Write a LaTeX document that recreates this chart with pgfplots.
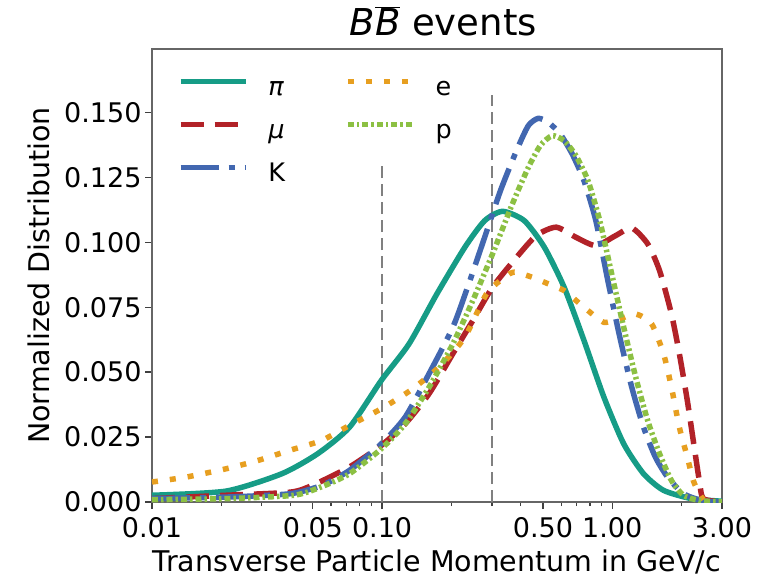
\documentclass[border=0pt]{standalone}
\usepackage{fontspec}
\setmainfont{DejaVu Sans}
\usepackage{pgfplots}
\pgfplotsset{compat=1.18}
\definecolor{cpi}{RGB}{22,156,134}
\definecolor{cmu}{RGB}{178,34,40}
\definecolor{cK}{RGB}{66,103,176}
\definecolor{ce}{RGB}{231,159,32}
\definecolor{cp}{RGB}{140,192,67}
\begin{document}
\begin{tikzpicture}
\begin{axis}[
 at={(0pt,0pt)}, anchor=south west,
 scale only axis, width=570pt, height=453pt,
 xmode=log, xmin=0.01, xmax=3, ymin=0, ymax=0.1744,
 xtick={0.01,0.05,0.1,0.5,1,3},
 xticklabels={0.01,0.05,0.10,0.50,1.00,3.00},
 minor xtick={0.02,0.03,0.04,0.06,0.07,0.08,0.09,0.2,0.3,0.4,0.6,0.7,0.8,0.9,2},
 ytick={0,0.025,0.05,0.075,0.1,0.125,0.15},
 yticklabels={0.000,0.025,0.050,0.075,0.100,0.125,0.150},
 tick pos=left, tick align=outside,
 major tick length=7pt, minor tick length=4pt,
 every tick/.append style={black!75, line width=1.3pt},
 axis line style={black!60, line width=1.3pt},
 tick label style={font=\fontsize{27}{32}\selectfont},
 xticklabel style={yshift=-5pt},
 /pgf/number format/assume math mode=true,
 xlabel={Transverse Particle Momentum in GeV/c},
 ylabel={Normalized Distribution},
 label style={font=\fontsize{28.5}{34}\selectfont},
 xlabel style={at={(axis description cs:0.5,-0.1325)}, anchor=center},
 ylabel style={at={(axis description cs:-0.198,0.5)}, anchor=center},
 title={\textit{B}$\overline{\mbox{\textit{B}}}$ events},
 title style={at={(axis description cs:0.511,1.0486)}, anchor=center, font=\fontsize{37}{44}\selectfont},
 legend columns=2,
 legend cell align=left,
 legend image code/.code={\draw[#1] (0pt,8pt) -- (65pt,8pt);},
 legend style={draw=none, fill=none, inner sep=0pt, outer sep=0pt,
   at={(axis description cs:0.0456,0.9366)}, anchor=north west,
   nodes={inner sep=0pt, text height=18pt, text depth=6pt, font=\fontsize{25.5}{30}\selectfont},
   row sep=19pt,
   /tikz/every odd column/.style={column sep=20pt},
   /tikz/every even column/.style={column sep=60pt}},
]
% vertical reference lines
\addplot[forget plot, black!50, line width=2pt, dash pattern=on 12pt off 6pt] coordinates {(0.1,0) (0.1,0.131)};
\addplot[forget plot, black!50, line width=2pt, dash pattern=on 12pt off 6pt] coordinates {(0.3,0) (0.3,0.1567)};
% pi
\addplot[forget plot, cpi, line width=5.5pt, smooth, tension=0.4] coordinates {
(0.01,0.0026) (0.021,0.0042) (0.0367,0.0109) (0.0525,0.0186) (0.0722,0.0288) (0.0992,0.0468) (0.131,0.0609) (0.173,0.0801) (0.229,0.0981) (0.279,0.1083) (0.334,0.1119) (0.415,0.1083) (0.507,0.0981) (0.618,0.0827) (0.754,0.0622) (0.920,0.0404) (1.122,0.0224) (1.368,0.0109) (1.671,0.0045) (2.21,0.0013) (3.0,0.0003)};
% mu
\addplot[forget plot, cmu, line width=5.5pt, dash pattern=on 23pt off 11pt, smooth, tension=0.4] coordinates {
(0.01,0.0013) (0.021,0.0026) (0.04,0.0038) (0.05,0.0065) (0.0722,0.0135) (0.0992,0.0218) (0.126,0.0301) (0.160,0.0417) (0.203,0.0571) (0.248,0.0699) (0.302,0.0827) (0.384,0.0942) (0.468,0.1026) (0.571,0.1058) (0.696,0.1019) (0.849,0.0987) (1.037,0.1026) (1.216,0.1055) (1.426,0.0994) (1.606,0.0891) (1.809,0.0724) (1.958,0.0571) (2.12,0.0391) (2.25,0.0237) (2.39,0.0083) (2.49,0.0013) (3.0,0.0)};
% K
\addplot[forget plot, cK, line width=5.5pt, dash pattern=on 38pt off 10pt on 6pt off 10pt, smooth, tension=0.4] coordinates {
(0.01,0.0013) (0.021,0.0019) (0.04,0.0032) (0.055,0.0065) (0.0722,0.0122) (0.0992,0.0224) (0.126,0.0327) (0.160,0.0494) (0.203,0.0673) (0.238,0.0840) (0.279,0.1019) (0.327,0.1199) (0.384,0.1353) (0.432,0.1449) (0.477,0.1477) (0.527,0.1462) (0.594,0.1417) (0.670,0.1340) (0.754,0.1237) (0.849,0.1083) (0.957,0.0853) (1.079,0.0635) (1.216,0.0442) (1.368,0.0288) (1.54,0.0173) (1.74,0.0096) (2.04,0.0032) (2.49,0.0004) (3.0,0.0)};
% e
\addplot[forget plot, ce, line width=5.5pt, dash pattern=on 6pt off 12pt, smooth, tension=0.4] coordinates {
(0.01,0.0077) (0.0141,0.0096) (0.021,0.0128) (0.0289,0.016) (0.0397,0.0199) (0.0546,0.0237) (0.0722,0.0295) (0.0992,0.0359) (0.136,0.0436) (0.180,0.0526) (0.229,0.0635) (0.284,0.0801) (0.340,0.0865) (0.376,0.0885) (0.450,0.0865) (0.527,0.0840) (0.618,0.0814) (0.696,0.0776) (0.785,0.0737) (0.920,0.0692) (1.079,0.0705) (1.265,0.0724) (1.483,0.0686) (1.671,0.0571) (1.809,0.0442) (1.958,0.0288) (2.12,0.0173) (2.25,0.0083) (2.39,0.0032) (2.49,0.0009)};
% p
\addplot[forget plot, cp, line width=5.5pt, dash pattern=on 6pt off 3pt on 2.5pt off 3pt, smooth, tension=0.4] coordinates {
(0.01,0.0009) (0.021,0.0013) (0.0414,0.0026) (0.055,0.006) (0.0722,0.0109) (0.0992,0.0205) (0.126,0.0301) (0.160,0.0442) (0.203,0.0609) (0.248,0.0776) (0.302,0.0955) (0.368,0.1147) (0.432,0.1288) (0.487,0.1372) (0.548,0.1410) (0.618,0.1391) (0.696,0.1333) (0.785,0.1237) (0.883,0.1083) (0.995,0.0878) (1.122,0.0673) (1.265,0.0481) (1.426,0.0314) (1.606,0.0186) (1.809,0.0083) (2.04,0.0026) (2.39,0.0006) (3.0,0.0)};
% legend (column-wise order as in the reference)
\addlegendimage{cpi, line width=5.5pt}
\addlegendentry{\textit{π}}
\addlegendimage{ce, line width=5.5pt, dash pattern=on 6pt off 12pt}
\addlegendentry{e}
\addlegendimage{cmu, line width=5.5pt, dash pattern=on 23pt off 11pt}
\addlegendentry{\textit{μ}}
\addlegendimage{cp, line width=5.5pt, dash pattern=on 6pt off 3pt on 2.5pt off 3pt}
\addlegendentry{p}
\addlegendimage{cK, line width=5.5pt, dash pattern=on 38pt off 10pt on 6pt off 10pt}
\addlegendentry{K}
\end{axis}
\pgfresetboundingbox
\path[use as bounding box] (-152pt,-80pt) rectangle (624pt,502pt);
\end{tikzpicture}
\end{document}
